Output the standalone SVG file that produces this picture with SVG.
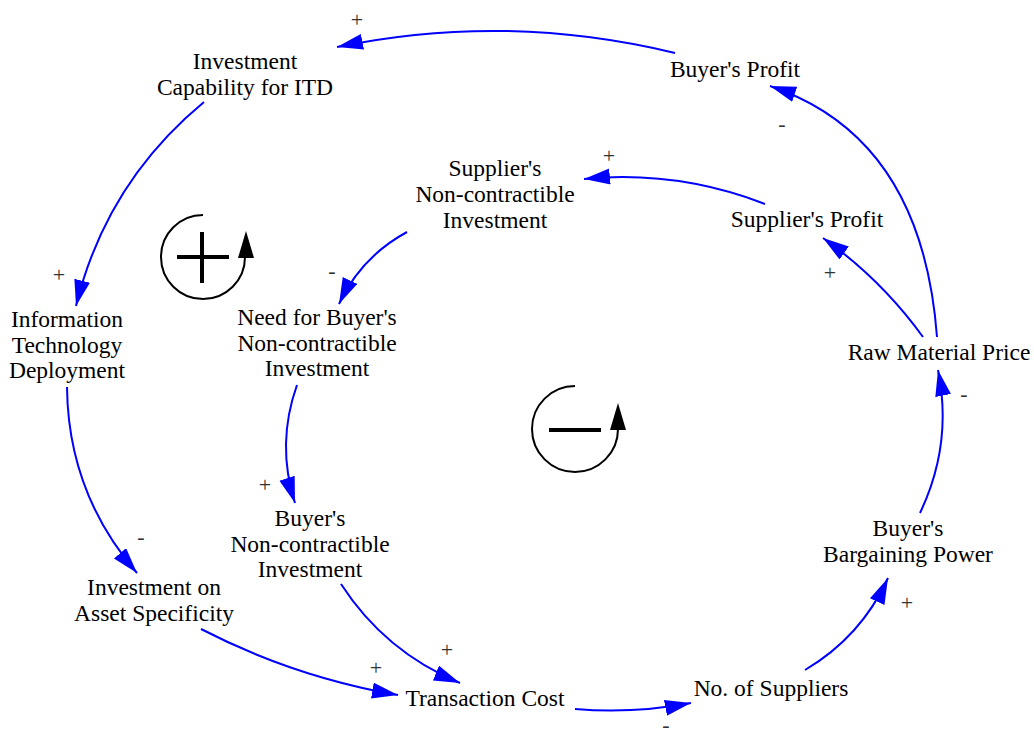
<svg xmlns="http://www.w3.org/2000/svg" width="1034" height="737" viewBox="0 0 1034 737">
<style>
.n{font-family:"Liberation Serif","Times New Roman",serif;font-size:23.5px;fill:#000;text-anchor:middle}
.p{font-family:"Liberation Serif","Times New Roman",serif;font-size:22px;fill:#333;text-anchor:middle}
.c{fill:none;stroke:#0000ff;stroke-width:2;marker-end:url(#ah)}
.loop{fill:none;stroke:#000;stroke-width:2}
.sym{stroke:#000;stroke-width:4;fill:none}
</style>
<defs>
<marker id="ah" markerUnits="userSpaceOnUse" markerWidth="28" markerHeight="18" refX="26" refY="8" orient="auto" viewBox="0 0 28 18">
<path d="M0,0 L26,8 L0,16 z" fill="#0000ff"/>
</marker>
</defs>
<rect width="1034" height="737" fill="#fff"/>
<g id="connectors">
<path class="c" d="M675,53 Q506,12 337,47"/>
<path class="c" d="M937,337 Q922,137 770,86"/>
<path class="c" d="M923,337 Q881,279 823,238"/>
<path class="c" d="M765,204 Q677,170 584,179"/>
<path class="c" d="M407,232 Q361,257 339,304"/>
<path class="c" d="M297,385 Q276,444 295,503"/>
<path class="c" d="M341,584 Q385,652 460,683"/>
<path class="c" d="M201,629 Q294,677 398,695"/>
<path class="c" d="M575,709 Q633,714 691,703"/>
<path class="c" d="M805,670 Q861,637 888,578"/>
<path class="c" d="M920,513 Q953,444 938,370"/>
<path class="c" d="M204,102 Q106,183 76,306"/>
<path class="c" d="M67,387 Q68,493 137,573"/>
</g>
<g id="polarities">
<text class="p" x="357" y="27">+</text>
<text class="p" x="782" y="131">-</text>
<text class="p" x="609" y="163">+</text>
<text class="p" x="332" y="278">-</text>
<text class="p" x="59" y="282">+</text>
<text class="p" x="830" y="280">+</text>
<text class="p" x="964" y="401">-</text>
<text class="p" x="265" y="492">+</text>
<text class="p" x="141" y="544">-</text>
<text class="p" x="907" y="610">+</text>
<text class="p" x="447" y="657">+</text>
<text class="p" x="376" y="675">+</text>
<text class="p" x="666" y="732">-</text>
</g>
<g id="loop-reinforcing">
<path class="loop" d="M203,215 A42,42 0 1 0 245,257"/>
<path d="M246,231 L238,258 L254,258 z" fill="#000"/>
<path class="sym" d="M177,257 H229 M202,232 V283"/>
</g>
<g id="loop-balancing">
<path class="loop" d="M575,386 A43,43 0 1 0 618,429"/>
<path d="M618,403 L610,430 L626,430 z" fill="#000"/>
<path class="sym" d="M549,430 H601"/>
</g>
<g id="node-investment-capability"><text class="n" x="245" y="69">Investment</text><text class="n" x="245" y="95">Capability for ITD</text></g>
<g id="node-buyers-profit"><text class="n" x="735" y="77">Buyer's Profit</text></g>
<g id="node-supplier-nci"><text class="n" x="495" y="176">Supplier's</text><text class="n" x="495" y="202">Non-contractible</text><text class="n" x="495" y="227.5">Investment</text></g>
<g id="node-suppliers-profit"><text class="n" x="807" y="227">Supplier's Profit</text></g>
<g id="node-it-deployment"><text class="n" x="67" y="327">Information</text><text class="n" x="67" y="353">Technology</text><text class="n" x="67" y="378">Deployment</text></g>
<g id="node-need-buyer-nci"><text class="n" x="317" y="325">Need for Buyer's</text><text class="n" x="317" y="351">Non-contractible</text><text class="n" x="317" y="376">Investment</text></g>
<g id="node-raw-material-price"><text class="n" x="939" y="360">Raw Material Price</text></g>
<g id="node-buyer-nci"><text class="n" x="310" y="526">Buyer's</text><text class="n" x="310" y="551.5">Non-contractible</text><text class="n" x="310" y="577">Investment</text></g>
<g id="node-bargaining-power"><text class="n" x="908" y="536">Buyer's</text><text class="n" x="908" y="562">Bargaining Power</text></g>
<g id="node-asset-specificity"><text class="n" x="154" y="595">Investment on</text><text class="n" x="154" y="621">Asset Specificity</text></g>
<g id="node-transaction-cost"><text class="n" x="485" y="706">Transaction Cost</text></g>
<g id="node-no-suppliers"><text class="n" x="771" y="696">No. of Suppliers</text></g>
</svg>
